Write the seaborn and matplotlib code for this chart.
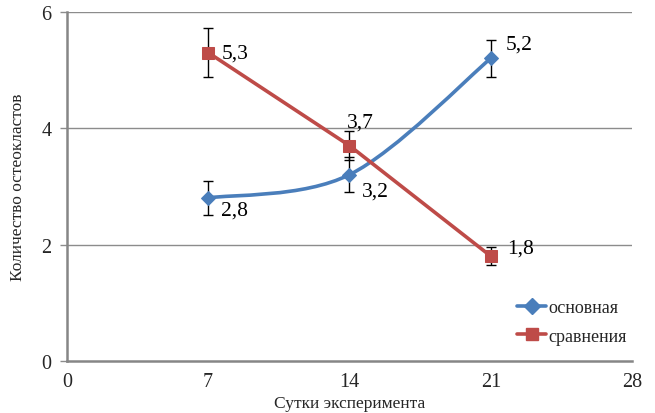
import matplotlib
matplotlib.use("Agg")
import matplotlib.pyplot as plt
from matplotlib.path import Path
from matplotlib.patches import PathPatch
from matplotlib.lines import Line2D
import numpy as np
import pandas as pd
import seaborn as sns

days = [7, 14, 21]
main_vals = [2.8, 3.2, 5.2]
main_err = [0.29, 0.3, 0.32]
comp_vals = [5.3, 3.7, 1.8]
comp_err = [0.42, 0.25, 0.15]
main_labels = ["2,8", "3,2", "5,2"]
comp_labels = ["5,3", "3,7", "1,8"]
x_ticks = [0, 7, 14, 21, 28]
y_ticks = [0, 2, 4, 6]
series_names = ["основная", "сравнения"]

BLUE = "#4A7EBB"
RED = "#BE4B48"

sns.set_theme(style="white")
plt.rcParams['font.family'] = ['Liberation Serif', 'DejaVu Serif']

fig = plt.figure(figsize=(6.55, 4.14), dpi=100)
ax = fig.add_axes([0.102, 0.126, 0.863, 0.843])

df_main = pd.DataFrame({"day": days, "val": main_vals})
df_comp = pd.DataFrame({"day": days, "val": comp_vals})

# grid
for y in y_ticks[1:]:
    ax.axhline(y, color="#8c8c8c", lw=1.0, zorder=0)

# smooth blue curve (Excel-style Bezier smoothing)
pts = np.column_stack([days, main_vals]).astype(float)
n = len(pts)
verts = [tuple(pts[0])]
codes = [Path.MOVETO]
for i in range(n - 1):
    p0 = pts[i - 1] if i > 0 else pts[i]
    p1 = pts[i]
    p2 = pts[i + 1]
    p3 = pts[i + 2] if i + 2 < n else pts[i + 1]
    c1 = p1 + (p2 - p0) / 6.0
    c2 = p2 - (p3 - p1) / 6.0
    verts += [tuple(c1), tuple(c2), tuple(p2)]
    codes += [Path.CURVE4] * 3
ax.add_patch(PathPatch(Path(verts, codes), fill=False, edgecolor=BLUE, lw=2.6,
                       zorder=3, capstyle="round"))

# red line
sns.lineplot(data=df_comp, x="day", y="val", ax=ax, color=RED, lw=2.6,
             marker="s", markersize=9, markeredgecolor=RED, zorder=4, legend=False)
# blue markers
sns.lineplot(data=df_main, x="day", y="val", ax=ax, color=BLUE, lw=0,
             marker="D", markersize=7, markeredgecolor=BLUE, zorder=4, legend=False)

# error bars
ax.errorbar(days, main_vals, yerr=main_err, fmt="none", ecolor="black",
            elinewidth=1.0, capsize=3.5, capthick=1.0, zorder=2)
ax.errorbar(days, comp_vals, yerr=comp_err, fmt="none", ecolor="black",
            elinewidth=1.0, capsize=3.5, capthick=1.0, zorder=2)

# data labels
fs = 15.5
main_offsets = [(9, -8.5), (9, -11.5), (11, 10)]
comp_offsets = [(10, 0), (-1.5, 17), (12, 6)]
for x, y, t, off in zip(days, main_vals, main_labels, main_offsets):
    ax.annotate(t, (x, y), xytext=off, textcoords="offset points",
                fontsize=fs, ha="left", va="center", color="black")
for x, y, t, off in zip(days, comp_vals, comp_labels, comp_offsets):
    ax.annotate(t, (x, y), xytext=off, textcoords="offset points",
                fontsize=fs, ha="left", va="center", color="black")

ax.set_xlim(0, 28)
ax.set_ylim(0, 6)
ax.set_xticks(x_ticks)
ax.set_yticks(y_ticks)
ax.tick_params(axis="y", length=5, width=1, color="#8c8c8c", labelsize=14.5,
               direction="out", pad=6, left=True)
ax.tick_params(axis="x", length=0, labelsize=14.5, pad=8)
for s in ["top", "right"]:
    ax.spines[s].set_visible(False)
for s in ["left", "bottom"]:
    ax.spines[s].set_color("#868686")
    ax.spines[s].set_linewidth(1.8)

ax.set_xlabel("Сутки эксперимента", fontsize=12.5, labelpad=3)
ax.set_ylabel("Количество остеокластов", fontsize=12.5, labelpad=11)

handles = [
    Line2D([], [], color=BLUE, lw=2.6, marker="D", markersize=8),
    Line2D([], [], color=RED, lw=2.6, marker="s", markersize=8),
]
ax.legend(handles, series_names, loc="lower right", bbox_to_anchor=(1.02, 0.0),
          frameon=False, fontsize=13, handlelength=1.6, handletextpad=0.15,
          labelspacing=0.65)

fig.savefig("out.png", dpi=100)
